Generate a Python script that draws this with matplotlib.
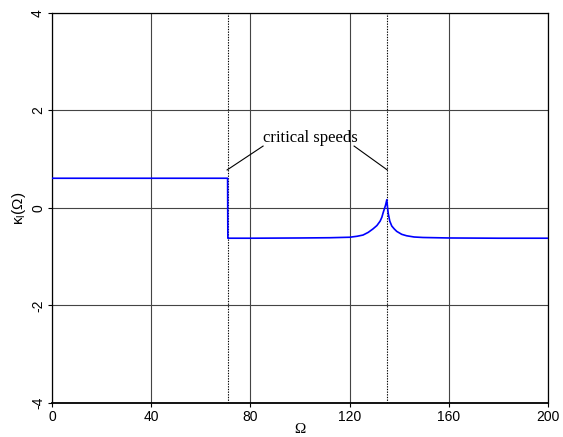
import matplotlib.pyplot as plt

plt.rcParams['axes.unicode_minus'] = False

# curve
omega = [0, 70.8, 70.9, 80, 100, 112, 120, 123, 125.4, 127.5, 129.4, 131, 132.3, 133, 133.5, 134, 134.5, 135,
         135.3, 135.6, 136.2, 137, 138, 139, 141, 143, 146, 149.6, 160, 180, 200]
kappa = [0.61, 0.61, -0.62, -0.62, -0.615, -0.61, -0.60, -0.58, -0.555, -0.50, -0.43, -0.36, -0.27, -0.19,
         -0.10, -0.02, 0.06, 0.17,
         0.0, -0.12, -0.27, -0.37, -0.43, -0.48, -0.54, -0.57, -0.595, -0.605, -0.615, -0.62, -0.62]
crit = [71, 135]
xticks = [0, 40, 80, 120, 160, 200]
yticks = [-4, -2, 0, 2, 4]

fig = plt.figure(figsize=(5.63, 4.37), dpi=100)
ax = fig.add_axes([0.0924, 0.0778, 0.881, 0.8925])

ax.plot(omega, kappa, color='#0000ff', lw=1.2, zorder=3)
for c in crit:
    ax.axvline(c, color='black', ls=(0, (1.2, 1.2)), lw=0.8, zorder=2)

ax.set_xlim(0, 200)
ax.set_ylim(-4, 4)
ax.set_xticks(xticks)
ax.set_yticks(yticks)
ax.grid(True, color='#444444', lw=0.8)
for s in ax.spines.values():
    s.set_color('black')
    s.set_linewidth(0.9)
ax.spines['bottom'].set_linewidth(1.3)

ax.tick_params(labelsize=10, length=3, color='black', pad=2)
for lab in ax.get_xticklabels() + ax.get_yticklabels():
    lab.set_fontfamily('Liberation Sans')
for lab in ax.get_yticklabels():
    lab.set_rotation(90)
    lab.set_va('center')

ax.set_xlabel('Ω', fontfamily='Liberation Serif', fontsize=11)
ax.xaxis.set_label_coords(0.5, -0.05)
ax.set_ylabel(r'κ$_\mathregular{l}$(Ω)', fontfamily='Liberation Sans', fontsize=11, labelpad=2)

ax.text(85, 1.43, 'critical speeds', fontfamily='Liberation Serif', fontsize=12,
        va='center', ha='left')
ax.plot([85.1, 70.6], [1.27, 0.78], color='black', lw=0.8)
ax.plot([121.8, 135.2], [1.27, 0.78], color='black', lw=0.8)

fig.savefig('out.png', dpi=100)
